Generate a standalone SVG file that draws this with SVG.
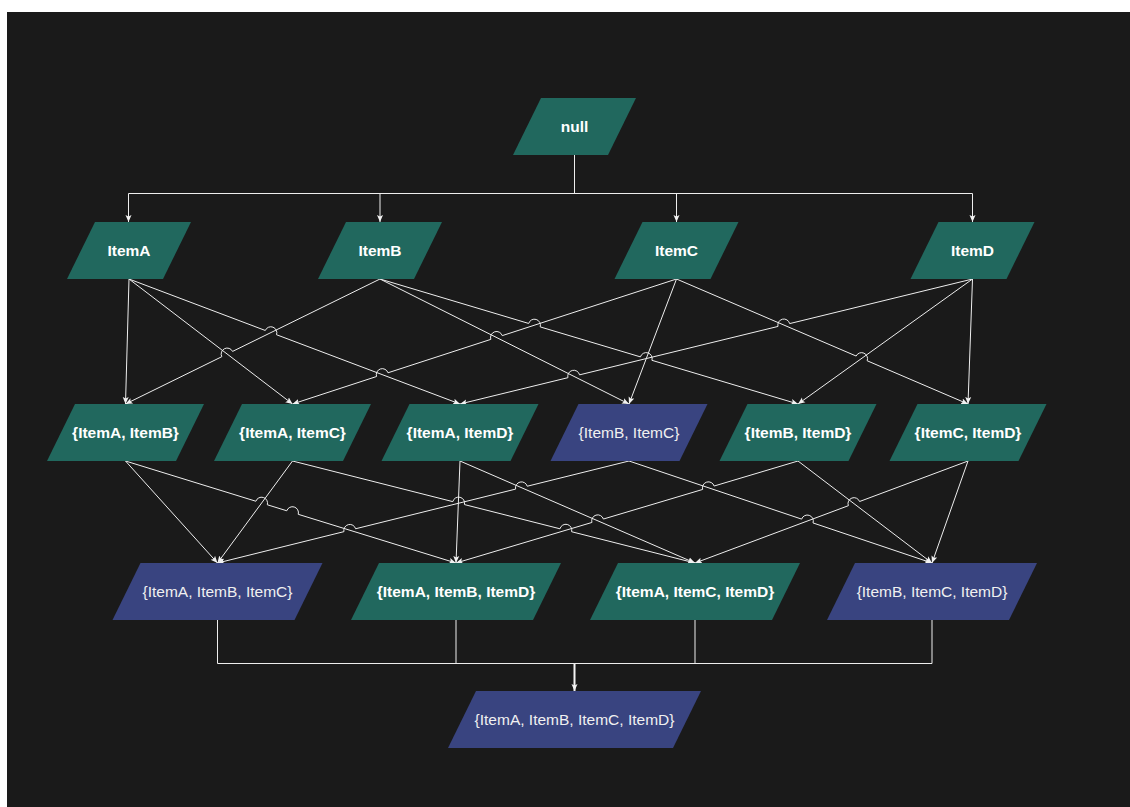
<svg xmlns="http://www.w3.org/2000/svg" width="1130" height="807" viewBox="0 0 1130 807">
<defs>
<marker id="arr" viewBox="0 0 8 8" refX="7" refY="4" markerWidth="8" markerHeight="8" markerUnits="userSpaceOnUse" orient="auto">
<path d="M0,1 L7,4 L0,7 L1.5,4 Z" fill="#F2F2F2"/>
</marker>
<style>
.g{fill:#21685E}
.b{fill:#394480}
.tb{font-family:"Liberation Sans",Arial,Helvetica,sans-serif;font-size:15.5px;font-weight:bold;fill:#FFFFFF;text-anchor:middle}
.tn{font-family:"Liberation Sans",Arial,Helvetica,sans-serif;font-size:15.5px;font-weight:normal;fill:#F0F0F0;text-anchor:middle}
.e{fill:none;stroke:#EEEEEE;stroke-width:1;marker-end:url(#arr)}
.m{fill:none;stroke:#EEEEEE;stroke-width:1}
</style>
</defs>
<rect x="0" y="0" width="1130" height="807" fill="#FFFFFF"/>
<rect x="7" y="12" width="1123" height="795" fill="#1A1A1A"/>

<g id="connectors">
<path class="e" d="M574.5,155 V193.5 H128.5 V222"/>
<path class="e" d="M574.5,155 V193.5 H380 V222"/>
<path class="e" d="M574.5,155 V193.5 H676.5 V222"/>
<path class="e" d="M574.5,155 V193.5 H972.5 V222"/>

<path class="e" d="M129,279 L125.5,404"/>
<path class="e" d="M129,279 L292.5,404"/>
<path class="e" d="M129,279 L265.29,330.47 A6,6 0 0 1 276.51,334.71 L460,404"/>
<path class="e" d="M380,279 L232.57,351.41 A6,6 0 0 0 221.79,356.71 L125.5,404"/>
<path class="e" d="M380,279 L629,404"/>
<path class="e" d="M380,279 L528.69,323.46 A6,6 0 0 1 540.19,326.90 L640.43,356.88 A6,6 0 0 1 651.93,360.32 L798,404"/>
<path class="e" d="M676.5,279 L502.25,335.64 A6,6 0 0 0 490.83,339.36 L387.99,372.79 A6,6 0 0 0 376.57,376.51 L292.5,404"/>
<path class="e" d="M676.5,279 L629,404"/>
<path class="e" d="M676.5,279 L856.15,356.04 A6,6 0 0 1 867.17,360.76 L968,404"/>
<path class="e" d="M972.5,279 L789.65,323.60 A6,6 0 0 0 777.99,326.44 L579.57,374.84 A6,6 0 0 0 567.91,377.68 L460,404"/>
<path class="e" d="M972.5,279 L798,404"/>
<path class="e" d="M972.5,279 L968,404"/>

<path class="e" d="M125.5,461 L217.5,563"/>
<path class="e" d="M125.5,461 L255.88,501.24 A6,6 0 0 1 267.34,504.78 L286.77,510.77 A6,6 0 0 1 298.23,514.31 L456,563"/>
<path class="e" d="M292.5,461 L217.5,563"/>
<path class="e" d="M292.5,461 L452.80,501.63 A6,6 0 0 1 464.44,504.57 L559.97,528.79 A6,6 0 0 1 571.61,531.73 L695,563"/>
<path class="e" d="M460,461 L456,563"/>
<path class="e" d="M460,461 L695,563"/>
<path class="e" d="M629,461 L527.25,486.22 A6,6 0 0 0 515.61,489.10 L355.59,528.77 A6,6 0 0 0 343.95,531.65 L217.5,563"/>
<path class="e" d="M629,461 L801.64,519.12 A6,6 0 0 1 813.02,522.94 L932,563"/>
<path class="e" d="M798,461 L714.14,486.02 A6,6 0 0 0 702.64,489.44 L603.41,519.04 A6,6 0 0 0 591.91,522.46 L456,563"/>
<path class="e" d="M798,461 L932,563"/>
<path class="e" d="M968,461 L859.59,501.50 A6,6 0 0 0 848.35,505.70 L695,563"/>
<path class="e" d="M968,461 L932,563"/>

<path class="m" d="M217.5,620 V663.5 H574.5"/>
<path class="m" d="M456,620 V663.5 H574.5"/>
<path class="m" d="M695,620 V663.5 H574.5"/>
<path class="m" d="M932,620 V663.5 H574.5"/>
<path class="e" style="stroke-width:2;stroke:#F4F4F4" d="M574.5,663.5 V691"/>
</g>

<g id="node-null"><polygon class="g" points="541,98 636,98 608,155 513,155"/><text class="tb" x="574.5" y="132">null</text></g>

<g id="node-itemA"><polygon class="g" points="95,222 191,222 163,279 67,279"/><text class="tb" x="129" y="256">ItemA</text></g>
<g id="node-itemB"><polygon class="g" points="346,222 442,222 414,279 318,279"/><text class="tb" x="380" y="256">ItemB</text></g>
<g id="node-itemC"><polygon class="g" points="642.5,222 738.5,222 710.5,279 614.5,279"/><text class="tb" x="676.5" y="256">ItemC</text></g>
<g id="node-itemD"><polygon class="g" points="938.5,222 1034.5,222 1006.5,279 910.5,279"/><text class="tb" x="972.5" y="256">ItemD</text></g>

<g id="node-AB"><polygon class="g" points="75,404 204,404 176,461 47,461"/><text class="tb" x="125.5" y="438">{ItemA, ItemB}</text></g>
<g id="node-AC"><polygon class="g" points="242,404 371,404 343,461 214,461"/><text class="tb" x="292.5" y="438">{ItemA, ItemC}</text></g>
<g id="node-AD"><polygon class="g" points="409.5,404 538.5,404 510.5,461 381.5,461"/><text class="tb" x="460" y="438">{ItemA, ItemD}</text></g>
<g id="node-BC"><polygon class="b" points="578.5,404 707.5,404 679.5,461 550.5,461"/><text class="tn" x="629" y="438">{ItemB, ItemC}</text></g>
<g id="node-BD"><polygon class="g" points="747.5,404 876.5,404 848.5,461 719.5,461"/><text class="tb" x="798" y="438">{ItemB, ItemD}</text></g>
<g id="node-CD"><polygon class="g" points="917.5,404 1046.5,404 1018.5,461 889.5,461"/><text class="tb" x="968" y="438">{ItemC, ItemD}</text></g>

<g id="node-ABC"><polygon class="b" points="140.5,563 322.5,563 294.5,620 112.5,620"/><text class="tn" x="217.5" y="597">{ItemA, ItemB, ItemC}</text></g>
<g id="node-ABD"><polygon class="g" points="379,563 561,563 533,620 351,620"/><text class="tb" x="456" y="597">{ItemA, ItemB, ItemD}</text></g>
<g id="node-ACD"><polygon class="g" points="618,563 800,563 772,620 590,620"/><text class="tb" x="695" y="597">{ItemA, ItemC, ItemD}</text></g>
<g id="node-BCD"><polygon class="b" points="855,563 1037,563 1009,620 827,620"/><text class="tn" x="932" y="597">{ItemB, ItemC, ItemD}</text></g>

<g id="node-ABCD"><polygon class="b" points="476,691 701,691 673,748 448,748"/><text class="tn" x="574.5" y="725">{ItemA, ItemB, ItemC, ItemD}</text></g>
</svg>
